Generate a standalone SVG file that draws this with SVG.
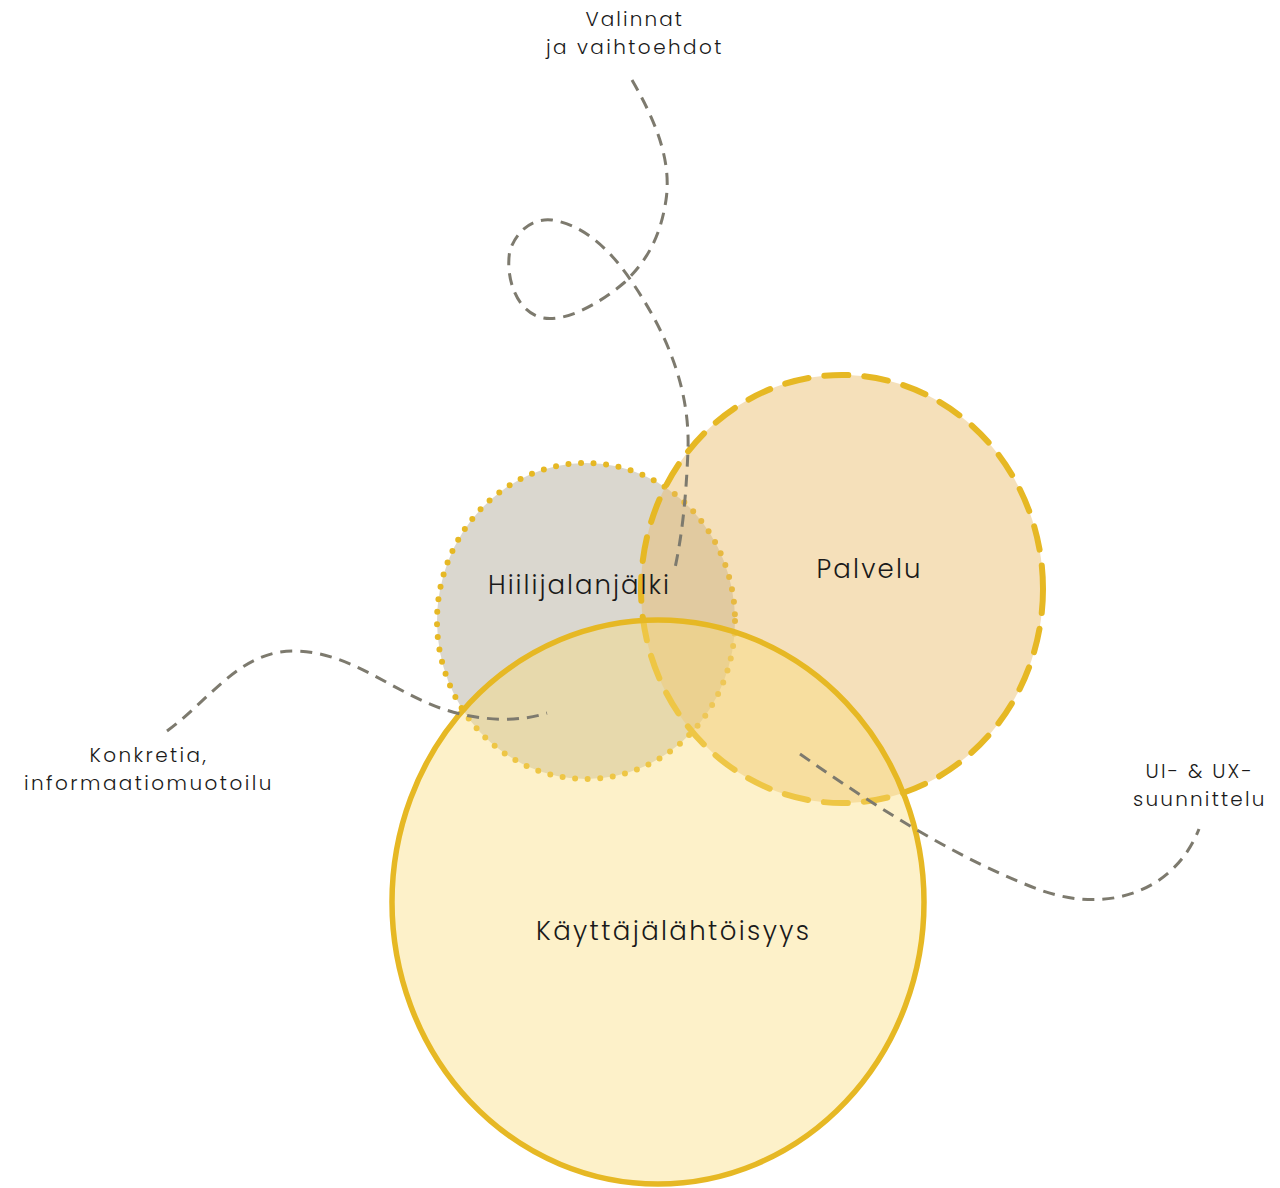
<svg xmlns="http://www.w3.org/2000/svg" width="1280" height="1188" viewBox="0 0 1280 1188">
<style>
.lbl{font-family:Poppins,Inter,"Noto Sans",sans-serif;font-weight:300;fill:#1a1a1a;text-anchor:middle}
.side{font-size:20px;letter-spacing:0.6px}
.main{font-size:26px;letter-spacing:1px}
.conn{fill:none;stroke:#7d7a6e;stroke-width:3;stroke-dasharray:12 8}
</style>
<rect width="1280" height="1188" fill="#ffffff"/>
<g id="node-hiilijalanjalki">
<ellipse cx="586" cy="621" rx="149" ry="158" fill="#dad7cf" stroke="#e6b824" stroke-width="6" stroke-linecap="round" stroke-dasharray="0 12.6"/>
</g>
<g id="node-palvelu">
<ellipse cx="842" cy="589" rx="201" ry="214" fill="#e9bb66" fill-opacity="0.45" stroke="#e6b824" stroke-width="6" stroke-linecap="round" stroke-dasharray="24 16"/>
</g>
<g id="node-kayttajalahtoisyys">
<ellipse cx="658" cy="902" rx="266" ry="282" fill="#fadc78" fill-opacity="0.4" stroke="#e6b824" stroke-width="5.5"/>
</g>
<g id="connectors">
<path class="conn" d="M632,80 C655,120 672,160 666,200 C660,240 645,262 625,282 C598,305 565,322 543,318 C515,312 505,275 510,250 C518,228 535,218 552,220 C585,225 612,252 632,282 C668,335 690,390 688,450 C686,500 682,535 675,568"/>
<path class="conn" d="M167,731 C210,700 240,650 295,651 C350,652 390,690 440,708 C480,722 520,722 547,713"/>
<path class="conn" d="M800,754 C880,810 960,860 1040,890 C1110,915 1175,890 1199,829"/>
</g>
<g id="labels">
<text class="lbl side" x="634" y="26" textLength="97" lengthAdjust="spacing">Valinnat</text>
<text class="lbl side" x="634" y="54" textLength="176" lengthAdjust="spacing">ja vaihtoehdot</text>
<text class="lbl main" x="579" y="594" textLength="182" lengthAdjust="spacing">Hiilijalanjälki</text>
<text class="lbl main" x="869" y="578" textLength="105" lengthAdjust="spacing">Palvelu</text>
<text class="lbl main" x="673" y="940" textLength="274" lengthAdjust="spacing">Käyttäjälähtöisyys</text>
<text class="lbl side" x="148" y="762" textLength="117" lengthAdjust="spacing">Konkretia,</text>
<text class="lbl side" x="148" y="790" textLength="248" lengthAdjust="spacing">informaatiomuotoilu</text>
<text class="lbl side" x="1199" y="778" textLength="107" lengthAdjust="spacing">UI- &amp; UX-</text>
<text class="lbl side" x="1199" y="806" textLength="132" lengthAdjust="spacing">suunnittelu</text>
</g>
</svg>
